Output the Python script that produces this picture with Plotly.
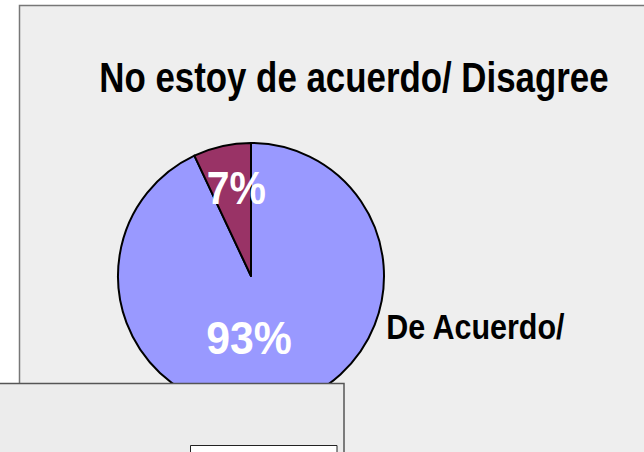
import plotly.graph_objects as go

labels = ["De Acuerdo/", "No estoy de acuerdo/ Disagree"]
values = [93, 7]
colors = ["#9999FF", "#993366"]

W, H = 644, 452
def px(x):
    return x / W
def py(y):
    return 1 - y / H

FONT = "Liberation Sans, Arial, sans-serif"

fig = go.Figure()
fig.add_trace(go.Pie(
    labels=labels, values=values, sort=False, direction="clockwise",
    rotation=0, marker=dict(colors=colors, line=dict(color="black", width=2)),
    textinfo="none", hoverinfo="label+percent", showlegend=False,
    domain=dict(x=[px(118), px(384)], y=[py(409), py(143)]),
))

total = sum(values)
pcts = [f"{round(v * 100 / total)}%" for v in values]

shapes = [
    dict(type="rect", xref="paper", yref="paper", x0=px(19.5), x1=px(660), y0=py(460), y1=py(5.5),
         fillcolor="#EEEEEE", line=dict(color="#777777", width=1.5), layer="below"),
    dict(type="rect", xref="paper", yref="paper", x0=px(-5), x1=px(344), y0=py(470), y1=py(383.5),
         fillcolor="#ECECEC", line=dict(color="#555555", width=1.5), layer="above"),
    dict(type="rect", xref="paper", yref="paper", x0=px(190.5), x1=px(337), y0=py(470), y1=py(445.5),
         fillcolor="#FFFFFF", line=dict(color="#222222", width=1), layer="above"),
]

annotations = [
    dict(text=labels[1], x=px(354), y=py(77), xref="paper", yref="paper", showarrow=False,
         font=dict(family=FONT, size=42, color="black", weight="bold"), xanchor="center", yanchor="middle"),
    dict(text=labels[0], x=px(475), y=py(326), xref="paper", yref="paper", showarrow=False,
         font=dict(family=FONT, size=35, color="black", weight="bold"), xanchor="center", yanchor="middle"),
    dict(text=pcts[1], x=px(235.5), y=py(188), xref="paper", yref="paper", showarrow=False,
         font=dict(family=FONT, size=46, color="white", weight="bold"), xanchor="center", yanchor="middle"),
    dict(text=pcts[0], x=px(248.5), y=py(337.5), xref="paper", yref="paper", showarrow=False,
         font=dict(family=FONT, size=47, color="white", weight="bold"), xanchor="center", yanchor="middle"),
]

fig.update_layout(
    width=W, height=H, margin=dict(l=0, r=0, t=0, b=0),
    paper_bgcolor="white", plot_bgcolor="white",
    shapes=shapes, annotations=annotations,
)

post = """
document.body.style.margin = '0';
var sx = [0.83, 0.87, 0.89, 0.91];
document.querySelectorAll('.annotation-text').forEach(function(t, i) {
  t.style.transformBox = 'fill-box';
  t.style.transformOrigin = 'center';
  t.style.transform = 'scaleX(' + sx[i] + ')';
});
"""
fig.write_html("out.html", post_script=post, config={"displayModeBar": False})
